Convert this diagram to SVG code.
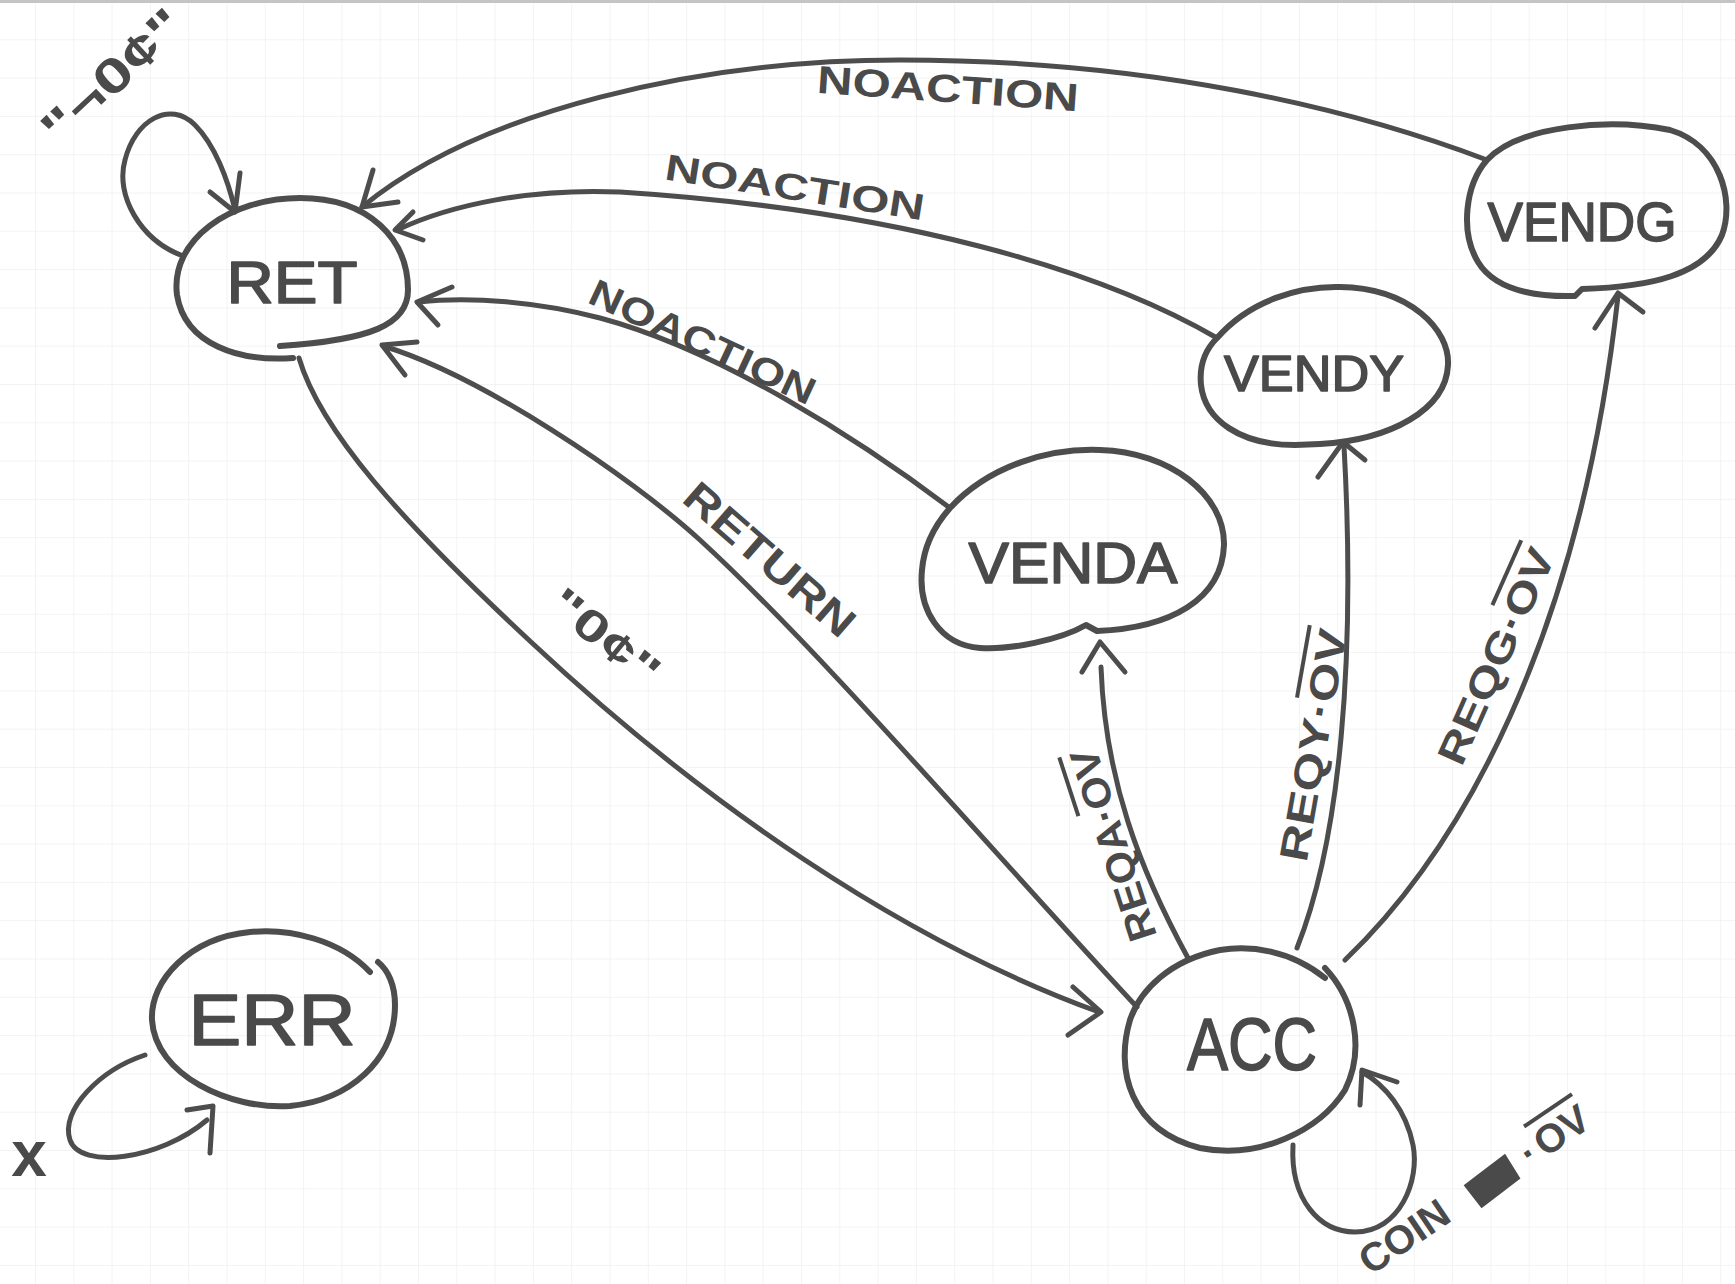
<svg xmlns="http://www.w3.org/2000/svg" width="1735" height="1284" viewBox="0 0 1735 1284">
<defs>
<pattern id="grid" width="38.3" height="38.3" patternUnits="userSpaceOnUse" x="35" y="1">
<path d="M0,0 H38.3 M0,0 V38.3" fill="none" stroke="#f0f0f0" stroke-width="1.5"/>
</pattern>
<style>
.n{fill:none;stroke:#4d4d4d;stroke-width:6;stroke-linecap:round;stroke-linejoin:round}
.e{fill:none;stroke:#4d4d4d;stroke-width:5;stroke-linecap:round;stroke-linejoin:round}
.t{font-family:"Liberation Sans",Arial,sans-serif;fill:#4a4a4a;text-anchor:middle}
.nt{font-weight:normal;stroke:#4a4a4a;stroke-width:1.6;stroke-linejoin:round}
.lb{font-weight:bold}
.ov{text-decoration:overline}
</style>
</defs>
<rect width="1735" height="1284" fill="#ffffff"/>
<rect width="1735" height="1284" fill="url(#grid)"/>
<rect width="1735" height="3" fill="#c4c4c4"/>

<g id="connectors">
<!-- VENDG -> RET -->
<path class="e" d="M1487,160 C1350,108 1150,60 900,60 C700,60 480,110 362,207"/>
<path class="e" d="M373,170 L362,207 L398,202"/>
<!-- VENDY -> RET -->
<path class="e" d="M1217,338 C1100,270 900,210 620,192 C530,188 450,205 397,230"/>
<path class="e" d="M413,212 L395,230 L423,240"/>
<!-- VENDA -> RET -->
<path class="e" d="M950,508 C860,440 720,350 600,318 C540,302 470,296 419,302"/>
<path class="e" d="M452,287 L417,302 L438,325"/>
<!-- ACC -> RET (RETURN) -->
<path class="e" d="M1137,1007 C1000,860 820,650 700,540 C630,476 480,375 383,346"/>
<path class="e" d="M417,342 L382,345 L405,375"/>
<!-- RET -> ACC ("0¢") -->
<path class="e" d="M299,358 C320,430 400,520 531,642 C700,800 900,940 1099,1012"/>
<path class="e" d="M1073,987 L1101,1012 L1068,1035"/>
<!-- RET self loop -->
<path class="e" d="M183,256 C140,240 115,195 125,160 C135,120 170,100 195,125 C215,145 228,180 235,210"/>
<path class="e" d="M210,192 L235,212 L240,173"/>
<!-- ACC -> VENDA -->
<path class="e" d="M1188,958 C1140,870 1105,780 1101,667"/>
<path class="e" d="M1082,672 L1100,642 L1125,672"/>
<!-- ACC -> VENDY -->
<path class="e" d="M1297,948 C1340,840 1356,660 1344,446"/>
<path class="e" d="M1318,477 L1343,442 L1365,460"/>
<!-- ACC -> VENDG -->
<path class="e" d="M1345,960 C1460,850 1580,640 1618,296"/>
<path class="e" d="M1595,328 L1618,293 L1643,312"/>
<!-- ACC self loop -->
<path class="e" d="M1293,1145 C1290,1200 1320,1232 1355,1232 C1400,1232 1420,1180 1413,1145 C1406,1110 1385,1085 1362,1072"/>
<path class="e" d="M1360,1105 L1362,1070 L1397,1082" stroke-width="7"/>
<!-- ERR self loop -->
<path class="e" d="M145,1055 C100,1070 60,1110 70,1140 C80,1170 160,1160 207,1120"/>
<path class="e" d="M187,1110 L213,1106 L210,1153"/>
</g>

<g id="edge-labels">
<text class="t lb" transform="translate(948,88) rotate(4)" y="14" font-size="39" textLength="262" lengthAdjust="spacingAndGlyphs">NOACTION</text>
<text class="t lb" transform="translate(795,187) rotate(9)" y="13" font-size="37" textLength="262" lengthAdjust="spacingAndGlyphs">NOACTION</text>
<text class="t lb" transform="translate(703,341) rotate(25)" y="14" font-size="38" textLength="245" lengthAdjust="spacingAndGlyphs">NOACTION</text>
<text class="t lb" transform="translate(770,559) rotate(41)" y="15" font-size="42" textLength="212" lengthAdjust="spacingAndGlyphs">RETURN</text>
<text class="t lb" transform="translate(605,637) rotate(39)" y="15" font-size="44" textLength="128" lengthAdjust="spacingAndGlyphs">"0¢"</text>
<text class="t lb" transform="translate(112,76) rotate(-43)" y="17" font-size="48" textLength="175" lengthAdjust="spacingAndGlyphs">"¬0¢"</text>
<text class="t lb" transform="translate(1113,845) rotate(-108)" y="14" font-size="40" textLength="200" lengthAdjust="spacingAndGlyphs">REQA·<tspan class="ov">OV</tspan></text>
<text class="t lb" transform="translate(1313,745) rotate(-80)" y="14" font-size="40" textLength="235" lengthAdjust="spacingAndGlyphs">REQY·<tspan class="ov">OV</tspan></text>
<text class="t lb" transform="translate(1496,656) rotate(-66)" y="14" font-size="40" textLength="232" lengthAdjust="spacingAndGlyphs">REQG·<tspan class="ov">OV</tspan></text>
<g transform="translate(1375,1256) rotate(-34)">
<path d="M113,-9 L165,-12 L164,17 L115,20 Z" fill="#4a4a4a"/>
<text class="t lb" y="14" font-size="40" style="text-anchor:start"><tspan x="-15">COIN</tspan><tspan x="178">·</tspan><tspan x="196" class="ov">OV</tspan></text>
</g>
<text class="t" x="29" y="1176" font-size="64" font-weight="bold">x</text>
</g>

<g id="node-RET">
<path class="n" d="M293,358 C240,362 185,345 177,295 C170,240 230,198 300,198 C370,198 408,240 408,290 C408,325 370,340 280,346"/>
<text class="t nt" x="292" y="303" font-size="60" textLength="131" lengthAdjust="spacingAndGlyphs">RET</text>
</g>
<g id="node-VENDG">
<path class="n" d="M1487,160 C1520,125 1610,118 1670,130 C1720,145 1735,200 1722,235 C1705,275 1650,287 1582,289 L1575,296 C1535,297 1495,290 1478,262 C1460,232 1465,185 1487,160 Z"/>
<text class="t nt" x="1582" y="241" font-size="56" textLength="189" lengthAdjust="spacingAndGlyphs">VENDG</text>
</g>
<g id="node-VENDY">
<path class="n" d="M1217,338 C1250,300 1300,286 1340,287 C1410,288 1450,330 1448,365 C1446,410 1390,440 1320,444 L1295,445 C1240,445 1205,420 1201,385 C1199,365 1205,350 1217,338 Z"/>
<text class="t nt" x="1314" y="391" font-size="50" textLength="180" lengthAdjust="spacingAndGlyphs">VENDY</text>
</g>
<g id="node-VENDA">
<path class="n" d="M950,508 C990,465 1050,448 1100,450 C1170,452 1225,495 1224,545 C1222,600 1170,628 1097,631 L1086,625 C1060,640 1010,650 980,648 C940,645 918,610 922,570 C924,545 935,525 950,508 Z"/>
<text class="t nt" x="1073" y="583" font-size="57" textLength="209" lengthAdjust="spacingAndGlyphs">VENDA</text>
</g>
<g id="node-ACC">
<path class="n" d="M1325,978 C1290,950 1250,945 1220,950 C1170,960 1140,990 1130,1020 C1115,1070 1130,1130 1200,1148 C1260,1160 1320,1130 1345,1090 C1365,1050 1355,1000 1325,968"/>
<text class="t nt" x="1252" y="1070" font-size="74" textLength="130" lengthAdjust="spacingAndGlyphs">ACC</text>
</g>
<g id="node-ERR">
<path class="n" d="M370,972 C340,940 290,928 250,932 C190,938 150,980 152,1020 C155,1075 230,1110 290,1106 C350,1100 395,1060 395,1005 C395,985 388,970 378,962"/>
<text class="t nt" x="272" y="1045" font-size="72" textLength="167" lengthAdjust="spacingAndGlyphs">ERR</text>
</g>
</svg>
